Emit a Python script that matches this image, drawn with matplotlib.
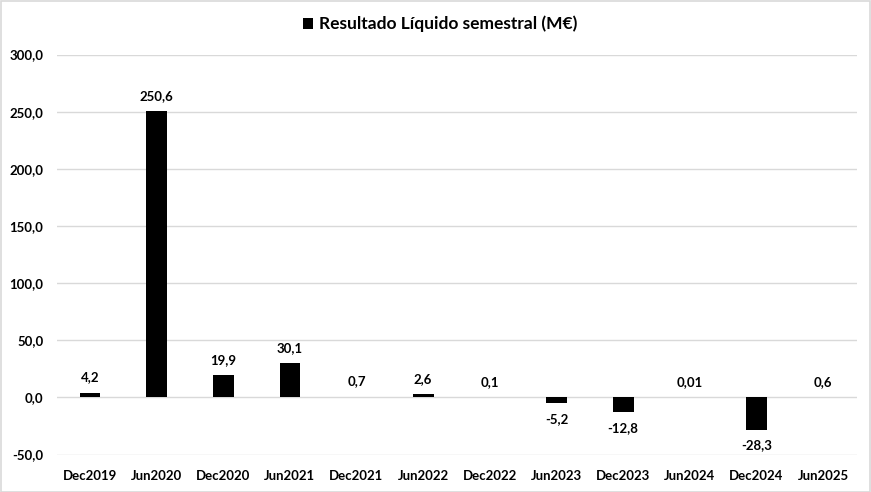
import matplotlib
matplotlib.use("Agg")
import matplotlib.pyplot as plt
from matplotlib.patches import Rectangle
from matplotlib.ticker import FuncFormatter

categories = ["Dec2019", "Jun2020", "Dec2020", "Jun2021", "Dec2021", "Jun2022",
              "Dec2022", "Jun2023", "Dec2023", "Jun2024", "Dec2024", "Jun2025"]
values = [4.2, 250.6, 19.9, 30.1, 0.7, 2.6, 0.1, -5.2, -12.8, 0.01, -28.3, 0.6]
yticks = [-50, 0, 50, 100, 150, 200, 250, 300]
title = "Resultado Líquido semestral (M€)"

plt.rcParams['font.family'] = ['Lato', 'DejaVu Sans']
plt.rcParams['font.weight'] = 'bold'

W, H = 871, 492
fig = plt.figure(figsize=(W / 100, H / 100), dpi=100)
ax = fig.add_axes([56.5 / W, 1 - 454.5 / H, (856.5 - 56.5) / W, (454.5 - 54.5) / H])

x = list(range(len(categories)))
ax.bar(x, values, width=0.31, color="black", zorder=3)
ax.set_xlim(-0.5, len(categories) - 0.5)
ax.set_ylim(-50, 300)
ax.set_yticks(yticks)
ax.yaxis.set_major_formatter(FuncFormatter(lambda v, p: f"{v:.1f}".replace(".", ",")))
ax.grid(axis="y", color="#d9d9d9", linewidth=1, zorder=0)
ax.set_xticks(x)
ax.set_xticklabels(categories)
for s in ax.spines.values():
    s.set_visible(False)
ax.tick_params(length=0, labelsize=9.5)
ax.tick_params(axis="x", pad=11)
ax.tick_params(axis="y", pad=9.5)
for lab in ax.get_xticklabels() + ax.get_yticklabels():
    lab.set_fontweight("bold")

for xi, v in zip(x, values):
    txt = f"{v:g}".replace(".", ",")
    if v >= 0:
        ax.annotate(txt, (xi, v), xytext=(0, 6.5), textcoords="offset points",
                    ha="center", va="bottom", fontsize=9.5, fontweight="bold")
    else:
        ax.annotate(txt, (xi, v), xytext=(0, -7), textcoords="offset points",
                    ha="center", va="top", fontsize=9.5, fontweight="bold")

# title with square legend marker
fig.text(448 / W, 1 - 23.5 / H, title, ha="center", va="center", fontsize=12.5, fontweight="bold")
fig.patches.append(Rectangle((302.5 / W, 1 - 28.5 / H), 10 / W, 10 / H, transform=fig.transFigure,
                             facecolor="black", edgecolor="none"))
fig.patches.append(Rectangle((0.5 / W, 0.5 / H), (W - 1.5) / W, (H - 1.5) / H, transform=fig.transFigure,
                             facecolor="none", edgecolor="#d9d9d9", linewidth=1.2))

fig.savefig("out.png", dpi=100)
